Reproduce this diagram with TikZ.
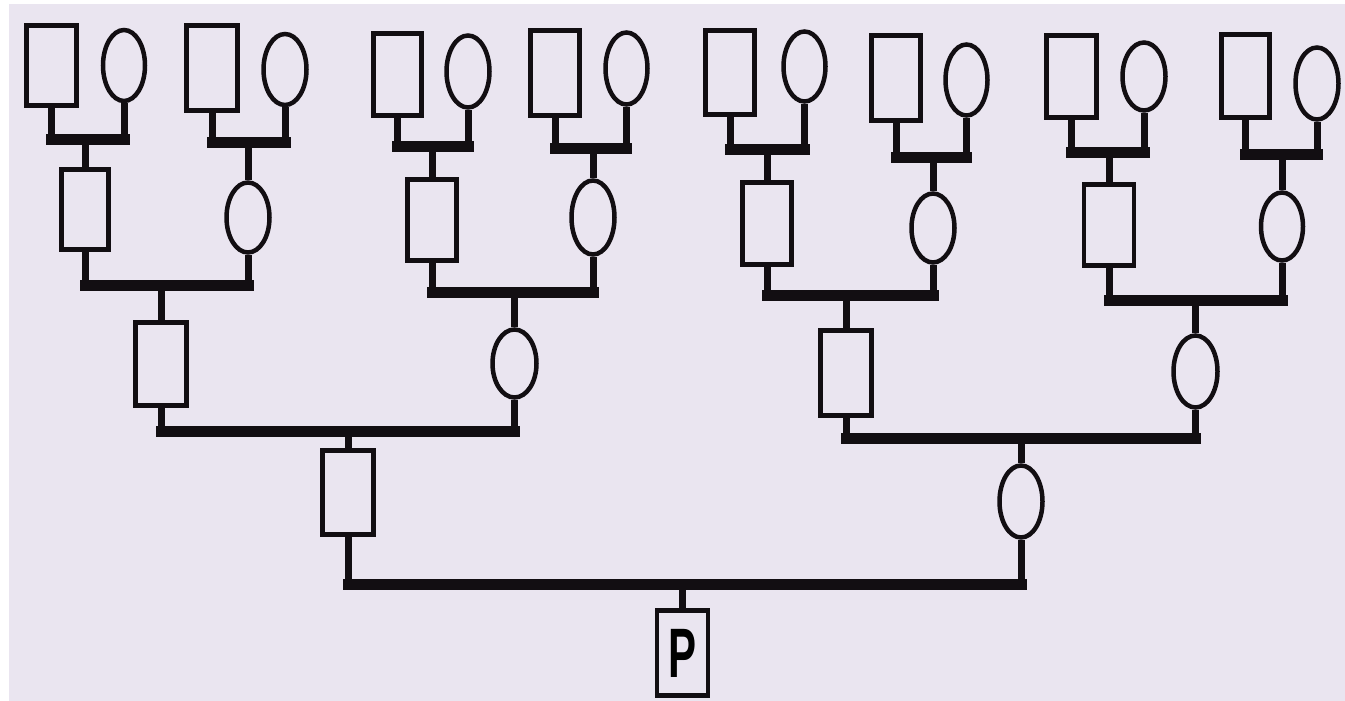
\documentclass[tikz,border=0pt]{standalone}
\usepackage{fontspec}
\usepackage{graphicx}
\setsansfont{Liberation Sans}
\usetikzlibrary{shapes.geometric}
\definecolor{paper}{RGB}{234,229,240}
\definecolor{ink}{RGB}{18,14,18}
\tikzset{
  man/.style args={#1/#2}{draw=ink, rectangle, line width=4.5pt, inner sep=0pt,
    fill=paper, minimum width=#1pt, minimum height=#2pt},
  woman/.style args={#1/#2}{draw=ink, ellipse, line width=4.5pt, inner sep=0pt,
    fill=paper, minimum width=#1pt, minimum height=#2pt},
  stem/.style={draw=ink, line width=7pt},
  bar/.style={draw=ink, line width=11pt, line cap=rect},
}
\newcommand\marriage[4]{%
  \draw[stem] (#1.south) -- (#1.south |- 0,#4);
  \draw[stem] (#2.south) -- (#2.south |- 0,#4);
  \draw[stem] (#3.north) -- (#3.north |- 0,#4);
  \draw[bar] (#1.south |- 0,#4) -- (#2.south |- 0,#4);
}
\begin{document}
\begin{tikzpicture}[x=1pt,y=-1pt]
\useasboundingbox (0,0) rectangle (1345,701);
\fill[white] (0,0) rectangle (1345,701);
\fill[paper] (9,4) rectangle (1345,701);
% generation 1
\node[man=50/80]   (f1) at (51.5,65.5) {};
\node[woman=42/71] (m1) at (124,65.5) {};
\node[man=51/85]   (f2) at (212,68) {};
\node[woman=43/71] (m2) at (285,69.5) {};
\node[man=48/82]   (f3) at (397.5,74.5) {};
\node[woman=43/72] (m3) at (468,71.5) {};
\node[man=49/85]   (f4) at (555,73) {};
\node[woman=42/72] (m4) at (626.5,68.5) {};
\node[man=49/84]   (f5) at (730,72.5) {};
\node[woman=42/70] (m5) at (804.5,66.5) {};
\node[man=49/85]   (f6) at (896,78) {};
\node[woman=42/71] (m6) at (966.5,80) {};
\node[man=50/82]   (f7) at (1071.5,76.5) {};
\node[woman=43/68] (m7) at (1144,76.5) {};
\node[man=48/83]   (f8) at (1245.5,76) {};
\node[woman=43/72] (m8) at (1317,83.5) {};
% generation 2
\node[man=47/80]   (a1) at (85,209.5) {};
\node[woman=43/70] (a2) at (248,217.5) {};
\node[man=49/81]   (a3) at (432,220) {};
\node[woman=43/74] (a4) at (593,217.5) {};
\node[man=49/82]   (a5) at (767,223.5) {};
\node[woman=43/69] (a6) at (933,228) {};
\node[man=50/81]   (a7) at (1109,225) {};
\node[woman=42/68] (a8) at (1282,226.5) {};
% generation 3
\node[man=51/83]   (b1) at (161,364) {};
\node[woman=44/68] (b2) at (514.5,363.5) {};
\node[man=51/85]   (b3) at (846,373) {};
\node[woman=44/72] (b4) at (1195.5,371.5) {};
% generation 4
\node[man=51/84]   (g1) at (348,492.5) {};
\node[woman=43/72] (g2) at (1021,501.5) {};
% proband
\node[man=51/85]   (P) at (682.5,653)
  {\fontsize{70}{70}\selectfont\sffamily\bfseries\scalebox{0.6}[1]{P}};
% connections
\marriage{f1}{m1}{a1}{139}
\marriage{f2}{m2}{a2}{142}
\marriage{f3}{m3}{a3}{146}
\marriage{f4}{m4}{a4}{148}
\marriage{f5}{m5}{a5}{149}
\marriage{f6}{m6}{a6}{157}
\marriage{f7}{m7}{a7}{152}
\marriage{f8}{m8}{a8}{154}
\marriage{a1}{a2}{b1}{285}
\marriage{a3}{a4}{b2}{292}
\marriage{a5}{a6}{b3}{295}
\marriage{a7}{a8}{b4}{300}
\marriage{b1}{b2}{g1}{431}
\marriage{b3}{b4}{g2}{438}
\marriage{g1}{g2}{P}{584}
\end{tikzpicture}
\end{document}
